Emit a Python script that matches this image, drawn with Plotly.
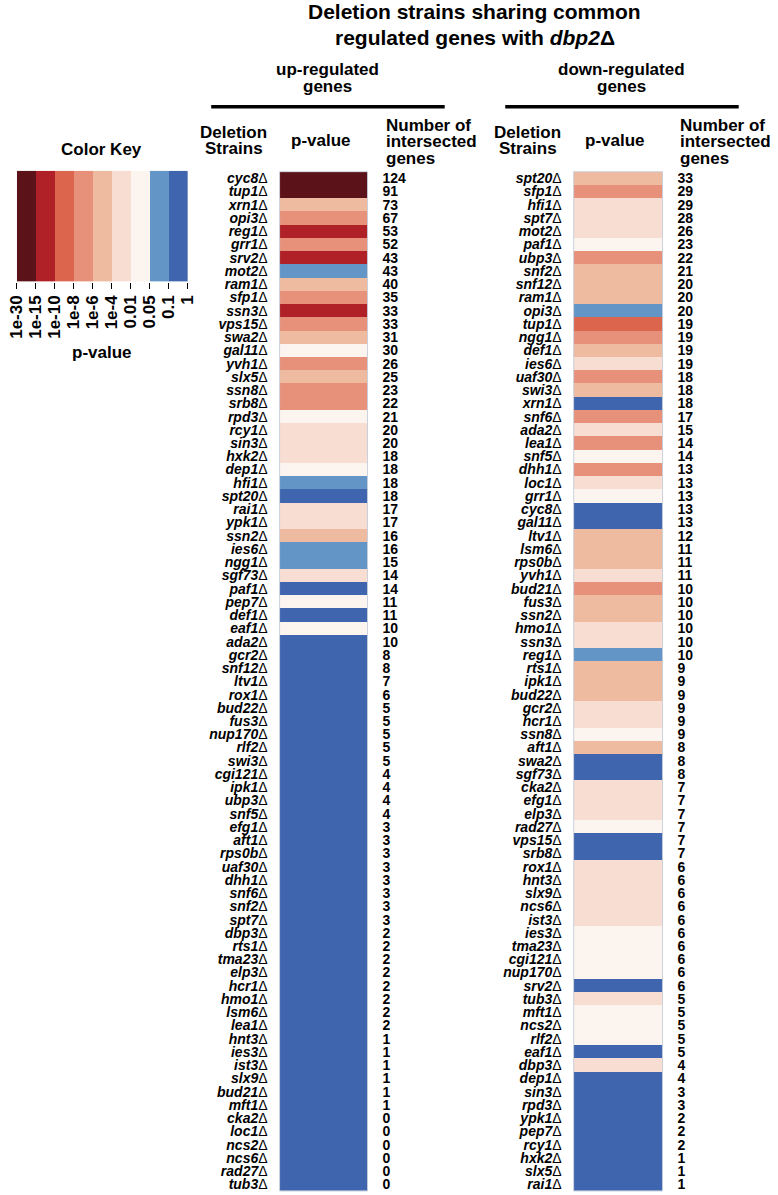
import numpy as np
import plotly.graph_objects as go

W, H = 778, 1195
FONT = "Liberation Sans, Arial, sans-serif"


def px(x):
    return x / W


def py(y):
    return 1 - y / H


# ---------------- data ----------------
up_strains = ["cyc8", "tup1", "xrn1", "opi3", "reg1", "grr1", "srv2", "mot2", "ram1", "sfp1",
              "ssn3", "vps15", "swa2", "gal11", "yvh1", "slx5", "ssn8", "srb8", "rpd3", "rcy1",
              "sin3", "hxk2", "dep1", "hfi1", "spt20", "rai1", "ypk1", "ssn2", "ies6", "ngg1",
              "sgf73", "paf1", "pep7", "def1", "eaf1", "ada2", "gcr2", "snf12", "ltv1", "rox1",
              "bud22", "fus3", "nup170", "rlf2", "swi3", "cgi121", "ipk1", "ubp3", "snf5", "efg1",
              "aft1", "rps0b", "uaf30", "dhh1", "snf6", "snf2", "spt7", "dbp3", "rts1", "tma23",
              "elp3", "hcr1", "hmo1", "lsm6", "lea1", "hnt3", "ies3", "ist3", "slx9", "bud21",
              "mft1", "cka2", "loc1", "ncs2", "ncs6", "rad27", "tub3"]
up_pvalue = [1e-20, 1e-20, 1e-5, 1e-7, 1e-12, 1e-7, 1e-12, 0.07, 1e-5, 1e-7,
             1e-12, 1e-7, 1e-5, 0.03, 1e-7, 1e-5, 1e-7, 1e-7, 0.03, 1e-3,
             1e-3, 1e-3, 0.03, 0.07, 0.5, 1e-3, 1e-3, 1e-5, 0.07, 0.07,
             1e-3, 0.5, 0.03, 0.5, 0.03, 0.5, 0.5, 0.5, 0.5, 0.5,
             0.5, 0.5, 0.5, 0.5, 0.5, 0.5, 0.5, 0.5, 0.5, 0.5,
             0.5, 0.5, 0.5, 0.5, 0.5, 0.5, 0.5, 0.5, 0.5, 0.5,
             0.5, 0.5, 0.5, 0.5, 0.5, 0.5, 0.5, 0.5, 0.5, 0.5,
             0.5, 0.5, 0.5, 0.5, 0.5, 0.5, 0.5]
up_count = [124, 91, 73, 67, 53, 52, 43, 43, 40, 35,
            33, 33, 31, 30, 26, 25, 23, 22, 21, 20,
            20, 18, 18, 18, 18, 17, 17, 16, 16, 15,
            14, 14, 11, 11, 10, 10, 8, 8, 7, 6,
            5, 5, 5, 5, 5, 4, 4, 4, 4, 3,
            3, 3, 3, 3, 3, 3, 3, 2, 2, 2,
            2, 2, 2, 2, 2, 1, 1, 1, 1, 1,
            1, 0, 0, 0, 0, 0, 0]

down_strains = ["spt20", "sfp1", "hfi1", "spt7", "mot2", "paf1", "ubp3", "snf2", "snf12", "ram1",
                "opi3", "tup1", "ngg1", "def1", "ies6", "uaf30", "swi3", "xrn1", "snf6", "ada2",
                "lea1", "snf5", "dhh1", "loc1", "grr1", "cyc8", "gal11", "ltv1", "lsm6", "rps0b",
                "yvh1", "bud21", "fus3", "ssn2", "hmo1", "ssn3", "reg1", "rts1", "ipk1", "bud22",
                "gcr2", "hcr1", "ssn8", "aft1", "swa2", "sgf73", "cka2", "efg1", "elp3", "rad27",
                "vps15", "srb8", "rox1", "hnt3", "slx9", "ncs6", "ist3", "ies3", "tma23", "cgi121",
                "nup170", "srv2", "tub3", "mft1", "ncs2", "rlf2", "eaf1", "dbp3", "dep1", "sin3",
                "rpd3", "ypk1", "pep7", "rcy1", "hxk2", "slx5", "rai1"]
down_pvalue = [1e-5, 1e-7, 1e-3, 1e-3, 1e-3, 0.03, 1e-7, 1e-5, 1e-5, 1e-5,
               0.07, 1e-9, 1e-7, 1e-5, 1e-3, 1e-7, 1e-5, 0.5, 1e-7, 1e-3,
               1e-7, 0.03, 1e-7, 1e-3, 0.03, 0.5, 0.5, 1e-5, 1e-5, 1e-5,
               1e-3, 1e-7, 1e-5, 1e-5, 1e-3, 1e-3, 0.07, 1e-5, 1e-5, 1e-5,
               1e-3, 1e-3, 0.03, 1e-5, 0.5, 0.5, 1e-3, 1e-3, 1e-3, 0.03,
               0.5, 0.5, 1e-3, 1e-3, 1e-3, 1e-3, 1e-3, 0.03, 0.03, 0.03,
               0.03, 0.5, 1e-3, 0.03, 0.03, 0.03, 0.5, 1e-3, 0.5, 0.5,
               0.5, 0.5, 0.5, 0.5, 0.5, 0.5, 0.5]
down_count = [33, 29, 29, 28, 26, 23, 22, 21, 20, 20,
              20, 19, 19, 19, 19, 18, 18, 18, 17, 15,
              14, 14, 13, 13, 13, 13, 13, 12, 11, 11,
              11, 10, 10, 10, 10, 10, 10, 9, 9, 9,
              9, 9, 9, 8, 8, 8, 7, 7, 7, 7,
              7, 7, 6, 6, 6, 6, 6, 6, 6, 6,
              6, 6, 5, 5, 5, 5, 5, 4, 4, 3,
              3, 2, 2, 2, 1, 1, 1]

key_breaks = [1e-30, 1e-15, 1e-10, 1e-8, 1e-6, 1e-4, 0.01, 0.05, 0.1, 1]
key_labels = ["1e-30", "1e-15", "1e-10", "1e-8", "1e-6", "1e-4", "0.01", "0.05", "0.1", "1"]
key_colors = ["#5c1219", "#b02127", "#db654d", "#e7917a", "#eebba1",
              "#f8ddd2", "#fcf4ef", "#6396c7", "#3f65ae"]

# ---------------- helpers ----------------
NB = len(key_colors)
colorscale = []
for i, c in enumerate(key_colors):
    colorscale += [[i / NB, c], [(i + 1) / NB, c]]


def to_bin(p):
    return (np.searchsorted(key_breaks, np.asarray(p), side="right") - 1).clip(0, NB - 1)


def strain_text(names):
    return [f"<b><i>{n}</i></b>\u0394" for n in names]


fig = go.Figure()

blocks = [
    (up_strains, up_pvalue, up_count, 277, 367, "x", "y", "y2"),
    (down_strains, down_pvalue, down_count, 578, 669, "x3", "y3", "y4"),
]

TOP, BOT = 171, 1192
layout_axes = {}
shapes = []
for strains, pv, cnt, xl, xr, xa, ya, yn in blocks:
    n = len(strains)
    idx = list(range(n))
    bins = to_bin(pv)
    fig.add_trace(go.Heatmap(z=[[int(b)] for b in bins], x=[0], y=idx,
                             xaxis=xa, yaxis=ya, colorscale=colorscale,
                             zmin=-0.5, zmax=NB - 0.5, showscale=False,
                             hoverinfo="skip"))
    fig.add_trace(go.Scatter(x=[0] * n, y=idx, xaxis=xa, yaxis=yn, mode="markers",
                             marker=dict(opacity=0, size=1), hoverinfo="skip",
                             showlegend=False))
    xname = "xaxis" + xa[1:]
    yname = "yaxis" + ya[1:]
    nname = "yaxis" + yn[1:]
    layout_axes[xname] = dict(domain=[px(xl), px(xr)], range=[-0.5, 0.5],
                              visible=False, anchor=ya, fixedrange=True)
    layout_axes[yname] = dict(domain=[py(BOT), py(TOP)], range=[n - 0.5, -0.5],
                              anchor=xa, tickmode="array", tickvals=idx,
                              ticktext=strain_text(strains), showgrid=False,
                              zeroline=False, showline=False, ticks="",
                              ticklabelstandoff=11,
                              tickfont=dict(family=FONT, size=14, color="black"))
    layout_axes[nname] = dict(overlaying=ya, side="right", anchor=xa,
                              range=[n - 0.5, -0.5], tickmode="array", tickvals=idx,
                              ticktext=[str(c) for c in cnt], showgrid=False,
                              zeroline=False, showline=False, ticks="",
                              ticklabelstandoff=14,
                              tickfont=dict(family=FONT, size=14, color="black",
                                            weight="bold"))
    # faint outline around the column of cells
    shapes.append(dict(type="rect", xref=xa + " domain", yref=ya + " domain",
                       x0=0, x1=1, y0=0, y1=1, layer="above",
                       line=dict(color="rgba(190,200,215,0.8)", width=1)))

# colour key
fig.add_trace(go.Heatmap(z=[list(range(NB))], x=list(range(NB)), y=[0],
                         xaxis="x5", yaxis="y5", colorscale=colorscale,
                         zmin=-0.5, zmax=NB - 0.5, showscale=False, hoverinfo="skip"))
layout_axes["xaxis5"] = dict(domain=[px(8), px(183)], range=[-0.502, NB - 0.498],
                             anchor="y5", tickmode="array",
                             tickvals=[i - 0.5 for i in range(NB + 1)],
                             ticktext=key_labels, tickangle=-90, ticks="outside",
                             ticklen=6, tickwidth=1, tickcolor="black",
                             ticklabeloverflow="allow",
                             showgrid=False, zeroline=False, showline=False,
                             tickfont=dict(family=FONT, size=17, color="black",
                                           weight="bold"))
layout_axes["yaxis5"] = dict(domain=[py(281), py(170)], range=[-0.5, 0.5],
                             anchor="x5", visible=False)

ann = []


def add_text(text, x, y, size, xanchor="center", yanchor="middle", align="center"):
    ann.append(dict(text=text, x=px(x), y=py(y), xref="paper", yref="paper",
                    showarrow=False, xanchor=xanchor, yanchor=yanchor, align=align,
                    font=dict(family=FONT, size=size, color="black")))


add_text("<b>Deletion strains sharing common</b>", 477, 11, 21)
add_text("<b>regulated genes with <i>dbp2</i>\u0394</b>", 477, 37, 21)
for off, word in [(0, "up-regulated"), (301, "down-regulated")]:
    add_text(f"<b>{word}</b>", 326 + off, 69, 17)
    add_text("<b>genes</b>", 326 + off, 86, 17)
    add_text("<b>Deletion</b>", 230 + off, 132, 17)
    add_text("<b>Strains</b>", 230 + off, 148, 17)
    add_text("<b>p-value</b>", 319 + off, 140, 17)
    add_text("<b>Number of</b>", 384 + off, 125, 17, xanchor="left")
    add_text("<b>intersected</b>", 384 + off, 141, 17, xanchor="left")
    add_text("<b>genes</b>", 384 + off, 158, 17, xanchor="left")
add_text("<b>Color Key</b>", 95, 149, 17)
add_text("<b>p-value</b>", 95, 352, 17)

for x0, x1 in [(207, 446), (508, 747)]:
    shapes.append(dict(type="line", xref="paper", yref="paper", x0=px(x0), x1=px(x1),
                       y0=py(106), y1=py(106), line=dict(color="black", width=3.5)))

fig.update_layout(width=W, height=H, autosize=False,
                  margin=dict(l=0, r=0, t=0, b=0),
                  paper_bgcolor="white", plot_bgcolor="white",
                  showlegend=False, annotations=ann, shapes=shapes,
                  font=dict(family=FONT, color="black"),
                  **layout_axes)

fig.write_html("out.html", config={"displayModeBar": False, "staticPlot": True},
               post_script="document.body.style.margin='0';document.body.style.padding='0';")
